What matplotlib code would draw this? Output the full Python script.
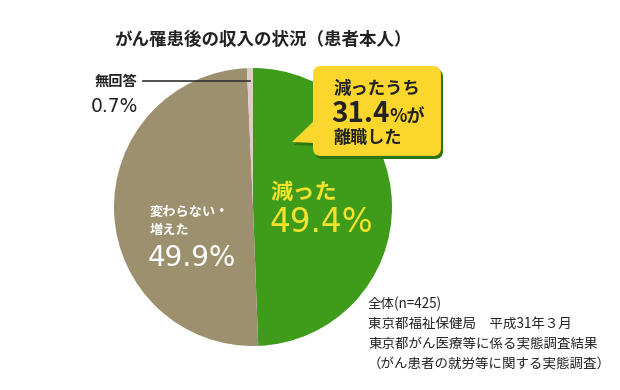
import matplotlib
matplotlib.use("Agg")
import matplotlib.pyplot as plt
from matplotlib.patches import FancyBboxPatch, Polygon

plt.rcParams['font.family'] = ['Noto Sans CJK JP', 'DejaVu Sans']
NUM_FONT = ['DejaVu Sans']

# data
labels = ["減った", "変わらない・\n増えた", "無回答"]
values = [49.4, 49.9, 0.7]
colors = ["#3f9c1b", "#9c906f", "#d8d1bd"]

title = "がん罹患後の収入の状況（患者本人）"
note_lines = ["全体(n=425)",
              "東京都福祉保健局　平成31年３月",
              "東京都がん医療等に係る実態調査結果",
              "（がん患者の就労等に関する実態調査）"]
callout_top = "減ったうち"
callout_value = "31.4"
callout_bottom = "離職した"

W, H = 620, 390
fig = plt.figure(figsize=(6.2, 3.9), dpi=100)
ax = fig.add_axes([0, 0, 1, 1])

def Y(y):
    # picture rows are counted from the top
    return H - y

# the pie, clockwise from 12 o'clock
ax.pie(values, colors=colors, startangle=90, counterclock=False,
       center=(253, Y(207)), radius=139, wedgeprops=dict(linewidth=0),
       frame=True)
ax.set_xlim(0, W)
ax.set_ylim(0, H)
ax.set_aspect("equal")
ax.axis("off")

ax.text(114, Y(40), title, fontsize=12.6, fontweight="bold", color="#222222",
        ha="left", va="center")

# labels inside the slices
ax.text(270, Y(192), labels[0], fontsize=16, fontweight="bold", color="#f3e22c",
        ha="left", va="center")
ax.text(269, Y(223), f"{values[0]}%", fontsize=23.5, color="#f3e22c",
        family=NUM_FONT, ha="left", va="center")
ax.text(150, Y(221), labels[1], fontsize=9.5, fontweight="bold", color="white",
        ha="left", va="center", linespacing=1.45)
ax.text(148, Y(258), f"{values[1]}%", fontsize=20, color="white",
        family=NUM_FONT, ha="left", va="center")

# no answer label with leader line
ax.text(95, Y(82), labels[2], fontsize=10.3, fontweight="bold", color="#222222",
        ha="left", va="center")
ax.text(91, Y(106), f"{values[2]}%", fontsize=13.5, color="#222222",
        family=NUM_FONT, ha="left", va="center")
ax.plot([143, 250], [Y(81), Y(81)], color="#333333", lw=1.2)

# callout bubble with shadow
for dx, dy, fc in [(2, -3, "#2f7410"), (0, 0, "#fbd62d")]:
    box = FancyBboxPatch((313 + dx, Y(156) + dy), 128, 90,
                         boxstyle="round,pad=0,rounding_size=8",
                         fc=fc, ec="none", zorder=3)
    ax.add_patch(box)
    tail = Polygon([(315 + dx, Y(120) + dy), (292 + dx, Y(142) + dy),
                    (315 + dx, Y(143) + dy)], closed=True, fc=fc, ec="none",
                   zorder=3)
    ax.add_patch(tail)

ax.text(333, Y(89), callout_top, fontsize=12.5, fontweight="bold",
        color="#222222", ha="left", va="center", zorder=4)
t = ax.text(331, Y(114), callout_value, fontsize=20, fontweight="bold",
            color="#222222", ha="left", va="center", zorder=4)
ax.annotate("%が", xy=(1, 0.22), xycoords=t, fontsize=13, fontweight="bold",
            color="#222222", ha="left", va="baseline", zorder=4)
ax.text(333, Y(138), callout_bottom, fontsize=12.3, fontweight="bold",
        color="#222222", ha="left", va="center", zorder=4)

# source note
for i, line in enumerate(note_lines):
    ax.text(368, Y(304 + 20 * i), line, fontsize=9.7, color="#222222",
            ha="left", va="center")

fig.savefig("out.png", dpi=100, facecolor="white")
